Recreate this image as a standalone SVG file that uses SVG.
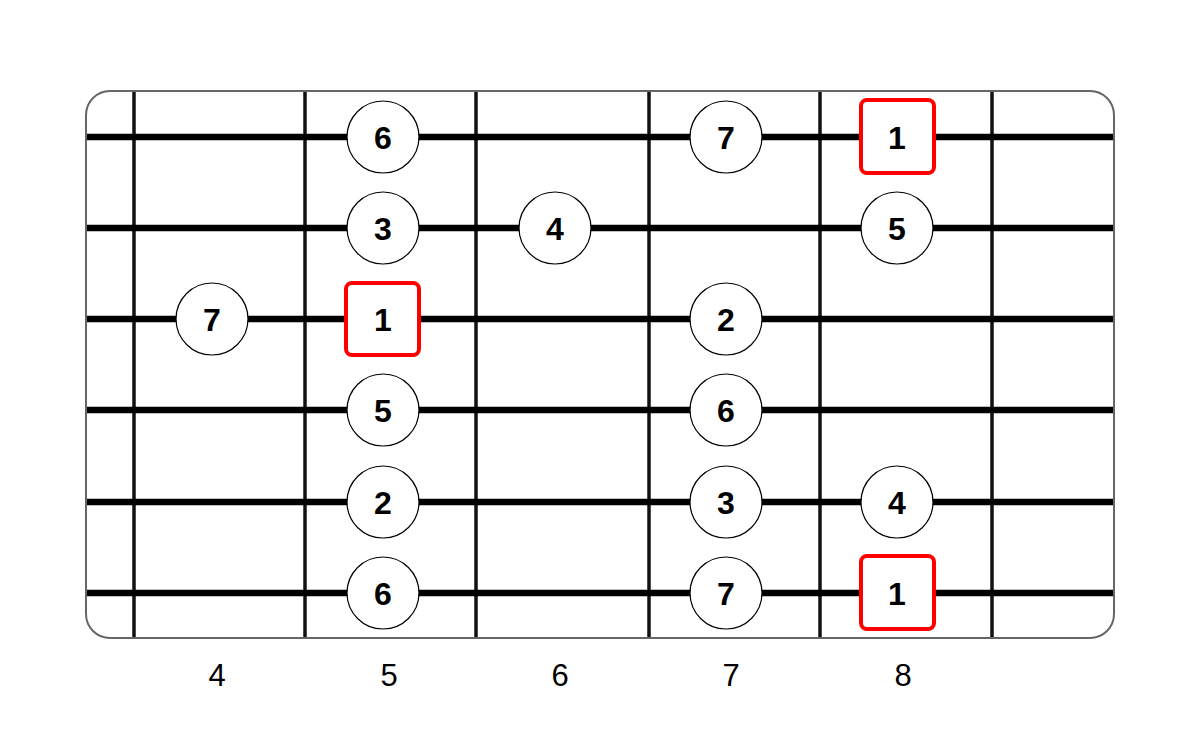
<svg xmlns="http://www.w3.org/2000/svg" width="1200" height="729" viewBox="0 0 1200 729">
<style>
.fret{stroke:#111;stroke-width:3.5}
.str{stroke:#000;stroke-width:6.5}
.n{fill:#fff;stroke:#000;stroke-width:1.2}
.r{fill:#fff;stroke:#f00;stroke-width:4}
.t{font-family:"Liberation Sans",Arial,sans-serif;font-weight:bold;font-size:32px;text-anchor:middle}
.lab{font-family:"Liberation Sans",Arial,sans-serif;font-size:31px;text-anchor:middle}
</style>
<rect width="1200" height="729" fill="#fff"/>
<rect x="86" y="91" width="1028" height="547" rx="24" fill="#fff" stroke="#666" stroke-width="2"/>
<g id="frets">
<line class="fret" x1="134" y1="92" x2="134" y2="637"/>
<line class="fret" x1="305" y1="92" x2="305" y2="637"/>
<line class="fret" x1="476" y1="92" x2="476" y2="637"/>
<line class="fret" x1="649" y1="92" x2="649" y2="637"/>
<line class="fret" x1="820" y1="92" x2="820" y2="637"/>
<line class="fret" x1="992" y1="92" x2="992" y2="637"/>
</g>
<g id="strings">
<line class="str" x1="87" y1="137" x2="1113" y2="137"/>
<line class="str" x1="87" y1="228" x2="1113" y2="228"/>
<line class="str" x1="87" y1="319" x2="1113" y2="319"/>
<line class="str" x1="87" y1="410" x2="1113" y2="410"/>
<line class="str" x1="87" y1="502" x2="1113" y2="502"/>
<line class="str" x1="87" y1="593" x2="1113" y2="593"/>
</g>
<g id="notes">
<g id="n1"><circle class="n" cx="383" cy="137" r="36"/><text class="t" x="383" y="149">6</text></g>
<g id="n2"><circle class="n" cx="726" cy="137" r="36"/><text class="t" x="726" y="149">7</text></g>
<g id="n3"><rect class="r" x="861" y="100" width="73" height="73" rx="6"/><text class="t" x="897" y="149">1</text></g>
<g id="n4"><circle class="n" cx="383" cy="228" r="36"/><text class="t" x="383" y="240">3</text></g>
<g id="n5"><circle class="n" cx="555" cy="228" r="36"/><text class="t" x="555" y="240">4</text></g>
<g id="n6"><circle class="n" cx="897" cy="228" r="36"/><text class="t" x="897" y="240">5</text></g>
<g id="n7"><circle class="n" cx="212" cy="319" r="36"/><text class="t" x="212" y="331">7</text></g>
<g id="n8"><rect class="r" x="346" y="283" width="73" height="72" rx="6"/><text class="t" x="383" y="331">1</text></g>
<g id="n9"><circle class="n" cx="726" cy="319" r="36"/><text class="t" x="726" y="331">2</text></g>
<g id="n10"><circle class="n" cx="383" cy="410" r="36"/><text class="t" x="383" y="422">5</text></g>
<g id="n11"><circle class="n" cx="726" cy="410" r="36"/><text class="t" x="726" y="422">6</text></g>
<g id="n12"><circle class="n" cx="383" cy="502" r="36"/><text class="t" x="383" y="514">2</text></g>
<g id="n13"><circle class="n" cx="726" cy="502" r="36"/><text class="t" x="726" y="514">3</text></g>
<g id="n14"><circle class="n" cx="897" cy="502" r="36"/><text class="t" x="897" y="514">4</text></g>
<g id="n15"><circle class="n" cx="383" cy="593" r="36"/><text class="t" x="383" y="605">6</text></g>
<g id="n16"><circle class="n" cx="726" cy="593" r="36"/><text class="t" x="726" y="605">7</text></g>
<g id="n17"><rect class="r" x="861" y="556" width="73" height="73" rx="6"/><text class="t" x="897" y="605">1</text></g>
</g>
<g id="labels">
<text class="lab" x="217" y="686">4</text>
<text class="lab" x="389" y="686">5</text>
<text class="lab" x="560" y="686">6</text>
<text class="lab" x="731" y="686">7</text>
<text class="lab" x="903" y="686">8</text>
</g>
</svg>
